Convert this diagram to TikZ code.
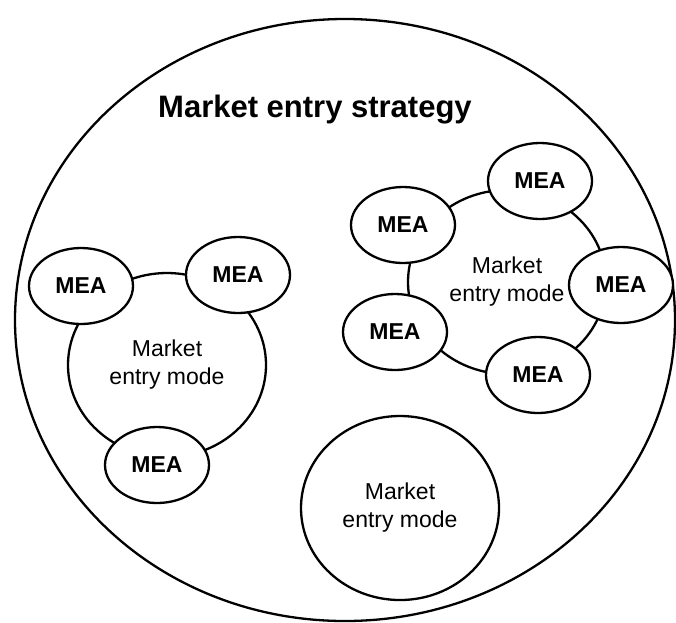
\documentclass[tikz,border=0pt]{standalone}
\usepackage{fontspec}
\setmainfont{Liberation Sans}
\usetikzlibrary{shapes.geometric}
\tikzset{
	modeshape/.style={draw, ellipse, line width=2.3pt, minimum width=198pt, minimum height=184pt, inner sep=0pt, align=center, font=\fontsize{23}{28}\selectfont},
	meashape/.style={draw, ellipse, fill=white, line width=2.3pt, minimum width=104pt, minimum height=76pt, inner sep=0pt, font=\bfseries\fontsize{23}{28}\selectfont}
}
\begin{document}
\begin{tikzpicture}[x=1pt, y=-1pt]
		%%%%% START %%%%%
		\useasboundingbox (0, 0) rectangle (676, 622);
		
		\node[draw, ellipse, line width=2.3pt, minimum width=660pt, minimum height=602pt] (strategy) at (345, 320) {};
		\node[anchor=base, font=\bfseries\fontsize{31}{36}\selectfont] (title) at (315, 117) {Market entry strategy};
		
		\node[modeshape] (mode1) at (167, 365) {Market\\entry mode};
		\node[meashape] (mea11) at (81, 286) {MEA};
		\node[meashape] (mea12) at (238, 275) {MEA};
		\node[meashape] (mea13) at (157, 465) {MEA};
		
		\node[modeshape] (mode2) at (507, 282) {Market\\entry mode};
		\node[meashape] (mea21) at (403, 225) {MEA};
		\node[meashape] (mea22) at (540, 181) {MEA};
		\node[meashape] (mea23) at (621, 285) {MEA};
		\node[meashape] (mea24) at (538, 375) {MEA};
		\node[meashape] (mea25) at (395, 332) {MEA};
		
		\node[modeshape] (mode3) at (400, 508) {Market\\entry mode};
		%%%%% END %%%%%
\end{tikzpicture}
\end{document}
